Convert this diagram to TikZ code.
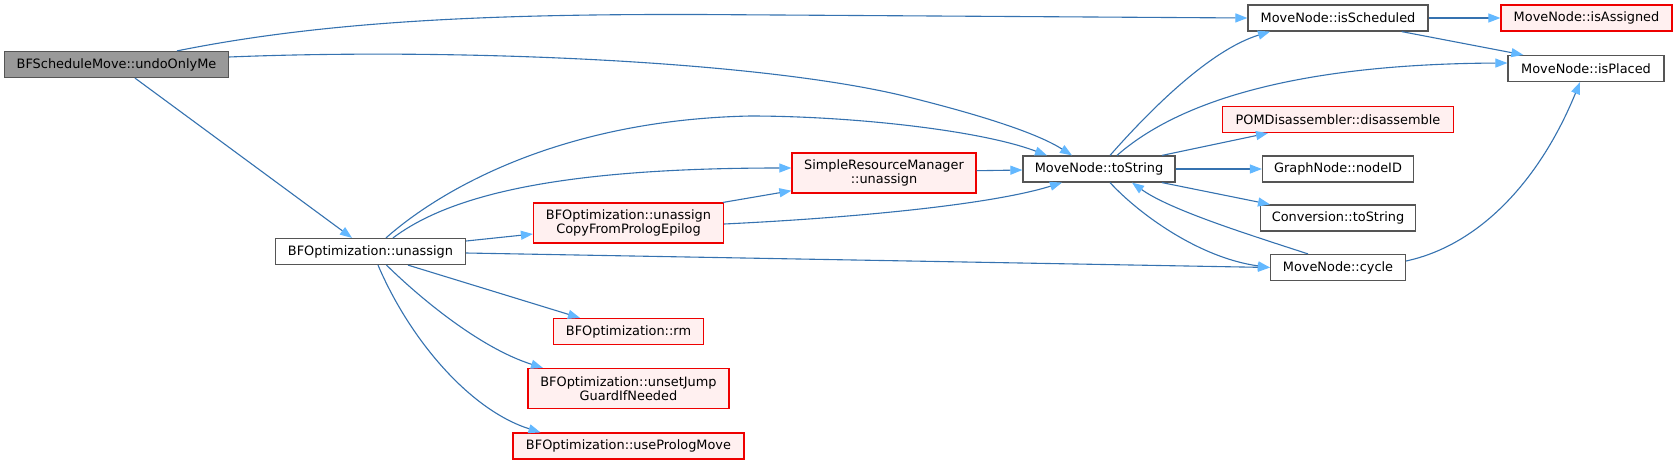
\documentclass[tikz,border=0pt]{standalone}
\usepackage{fontspec}
\setmainfont{DejaVu Sans}
\usetikzlibrary{arrows.meta,calc}
\definecolor{edgeblue}{HTML}{3572B0}
\definecolor{tipblue}{HTML}{63B8FF}
\definecolor{greyborder}{HTML}{555555}
\definecolor{rootfill}{HTML}{999999}
\definecolor{redfill}{HTML}{FFF0F0}
\definecolor{redborder}{HTML}{EE0000}
\begin{document}
\begin{tikzpicture}[x=1pt,y=-1pt,
  base/.style={rectangle, line width=1.2pt, inner sep=0pt, align=center,
    font=\fontsize{12.9}{14.5}\selectfont, text=black},
  plainnode/.style={base, draw=greyborder, fill=white},
  rootnode/.style={base, draw=greyborder, fill=rootfill},
  rednode/.style={base, draw=redborder, fill=redfill},
  conn/.style={draw=edgeblue, line width=1.1pt,
    -{Triangle[length=12pt,width=9pt,color=tipblue,fill=tipblue]}},
]
\fill[white] (0,0) rectangle (1677,464);
\useasboundingbox (0,0) rectangle (1677,464);

% nodes
\node[rootnode, minimum width=224pt, minimum height=26pt] (root) at (116.5,64.5) {BFScheduleMove::undoOnlyMe};
\node[plainnode, minimum width=190pt, minimum height=26pt] (unassign) at (370.5,251.5) {BFOptimization::unassign};
\node[rednode, minimum width=184pt, minimum height=40pt] (srm) at (884,173) {SimpleResourceManager\\::unassign};
\node[rednode, minimum width=190pt, minimum height=40pt] (copy) at (628.5,223) {BFOptimization::unassign\\CopyFromPrologEpilog};
\node[plainnode, minimum width=152pt, minimum height=26pt] (toString) at (1099,169) {MoveNode::toString};
\node[plainnode, minimum width=180pt, minimum height=26pt] (isScheduled) at (1338,18) {MoveNode::isScheduled};
\node[rednode, minimum width=171pt, minimum height=26pt] (isAssigned) at (1586.5,18) {MoveNode::isAssigned};
\node[plainnode, minimum width=156pt, minimum height=26pt] (isPlaced) at (1586,68.5) {MoveNode::isPlaced};
\node[rednode, minimum width=231pt, minimum height=26pt] (POM) at (1338,119.5) {POMDisassembler::disassemble};
\node[plainnode, minimum width=151pt, minimum height=26pt] (nodeID) at (1338,169) {GraphNode::nodeID};
\node[plainnode, minimum width=155pt, minimum height=26pt] (conv) at (1338,218) {Conversion::toString};
\node[plainnode, minimum width=135pt, minimum height=26pt] (cycle) at (1338,267.5) {MoveNode::cycle};
\node[rednode, minimum width=150pt, minimum height=26pt] (rm) at (628.5,331.5) {BFOptimization::rm};
\node[rednode, minimum width=201pt, minimum height=40pt] (unset) at (628.5,388.5) {BFOptimization::unsetJump\\GuardIfNeeded};
\node[rednode, minimum width=231pt, minimum height=26pt] (useProlog) at (628.5,446) {BFOptimization::usePrologMove};

% connectors
\draw[conn] ($(root.north)+(60.5,0)$) .. controls (330,20) and (500,14) .. (700,14.5) -- (isScheduled.west);
\draw[conn] ($(root.east)+(0,-7.5)$) .. controls (450,48) and (750,60) .. (900,95) .. controls (990,117) and (1040,135) .. ($(toString.north)+(-27,0)$);
\draw[conn] ($(root.south)+(18.5,0)$) -- ($(unassign.north)+(-18.5,0)$);

\draw[conn] ($(unassign.north)+(15.5,0)$) .. controls (440,190) and (560,120) .. (750,116) .. controls (850,116) and (980,130) .. ($(toString.north)+(-52,0)$);
\draw[conn] ($(unassign.north)+(22.5,0)$) .. controls (450,195) and (560,168) .. ($(srm.west)+(0,-5)$);
\draw[conn] ($(unassign.east)+(0,-10.5)$) -- ($(copy.west)+(0,11)$);
\draw[conn] ($(unassign.east)+(0,1.5)$) -- (cycle.west);
\draw[conn] ($(unassign.south)+(37.5,0)$) -- ($(rm.north)+(-48.5,0)$);
\draw[conn] ($(unassign.south)+(16,0)$) .. controls (420,298) and (480,348) .. ($(unset.north)+(-85.5,0)$);
\draw[conn] ($(unassign.south)+(7.5,0)$) .. controls (410,340) and (470,410) .. ($(useProlog.north)+(-88,0)$);

\draw[conn] ($(copy.north east)+(-1,0)$) -- ($(srm.west)+(0,17.7)$);
\draw[conn] ($(copy.east)+(0,1)$) .. controls (850,218) and (990,205) .. ($(toString.south)+(-37,0)$);
\draw[conn] ($(srm.east)+(0,-2.3)$) -- ($(toString.west)+(0,1)$);

\draw[conn] ($(toString.north)+(11,0)$) .. controls (1150,110) and (1210,50) .. ($(isScheduled.south)+(-68,0)$);
\draw[conn] ($(toString.north)+(18,0)$) .. controls (1180,100) and (1300,64) .. ($(isPlaced.west)+(0,-5.5)$);
\draw[conn] ($(toString.north)+(63,0)$) -- ($(POM.south)+(-70,0)$);
\draw[conn] (toString.east) -- (nodeID.west);
\draw[conn] ($(toString.south)+(63,0)$) -- ($(conv.north)+(-68,0)$);
\draw[conn] ($(toString.south)+(11,0)$) .. controls (1140,215) and (1200,258) .. (cycle.west);

\draw[conn] ($(cycle.north)+(-30,0)$) .. controls (1250,235) and (1170,210) .. ($(toString.south)+(33,0)$);
\draw[conn] ($(cycle.east)+(0,-6.5)$) .. controls (1480,245) and (1540,180) .. ($(isPlaced.south)+(-6,0)$);

\draw[conn] (isScheduled.east) -- (isAssigned.west);
\draw[conn] ($(isScheduled.south)+(63.7,0)$) -- ($(isPlaced.north)+(-62.7,0)$);
\end{tikzpicture}
\end{document}
